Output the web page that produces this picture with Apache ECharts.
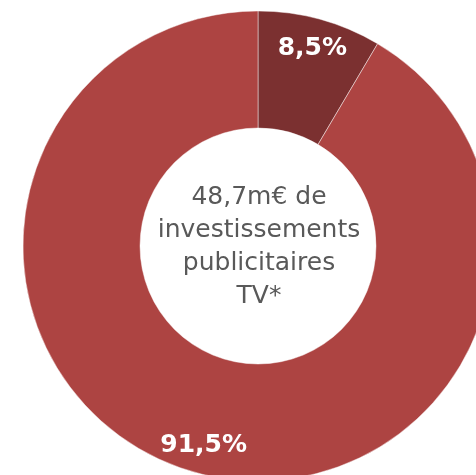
<!DOCTYPE html>
<html>
<head>
<meta charset="utf-8">
<script src="https://cdn.jsdelivr.net/npm/echarts@6/dist/echarts.min.js"></script>
<style>
html,body{margin:0;padding:0;background:#fff;}
#chart{width:476px;height:475px;}
</style>
</head>
<body>
<div id="chart"></div>
<script>
const categories = ['Part A', 'Part B'];
const values = [8.5, 91.5];
const labels = ['8,5%', '91,5%'];
const sliceColors = ['#7B3030', '#AD4442'];
const centerLines = ['48,7m€ de', 'investissements', 'publicitaires', 'TV*'];

const chart = echarts.init(document.getElementById('chart'), null, {renderer: 'canvas'});
const ringData = categories.map((c, i) => ({name: c, value: values[i], itemStyle: {color: sliceColors[i]}}));
const labelData = categories.map((c, i) => ({name: c, value: values[i], label: {formatter: labels[i]}}));

chart.setOption({
  animation: false,
  series: [
    {
      type: 'pie',
      center: [258, 246],
      radius: [118, 235],
      startAngle: 90,
      clockwise: true,
      silent: true,
      label: {show: false},
      labelLine: {show: false},
      itemStyle: {borderColor: 'rgba(255,255,255,0.45)', borderWidth: 1},
      data: ringData
    },
    {
      type: 'pie',
      center: [258, 247],
      radius: [0, 406],
      startAngle: 90,
      clockwise: true,
      silent: true,
      itemStyle: {color: 'rgba(0,0,0,0)'},
      label: {
        show: true,
        position: 'inside',
        color: '#ffffff',
        fontFamily: 'DejaVu Sans',
        fontWeight: 'bold',
        fontSize: 25
      },
      labelLine: {show: false},
      data: labelData
    }
  ],
  graphic: [{
    type: 'text',
    style: {
      text: centerLines.join('\n'),
      x: 0, y: 0,
      fill: '#595959',
      font: '25px "DejaVu Sans"',
      lineHeight: 33,
      align: 'center',
      verticalAlign: 'middle'
    },
    position: [259, 247]
  }]
});
</script>
</body>
</html>
